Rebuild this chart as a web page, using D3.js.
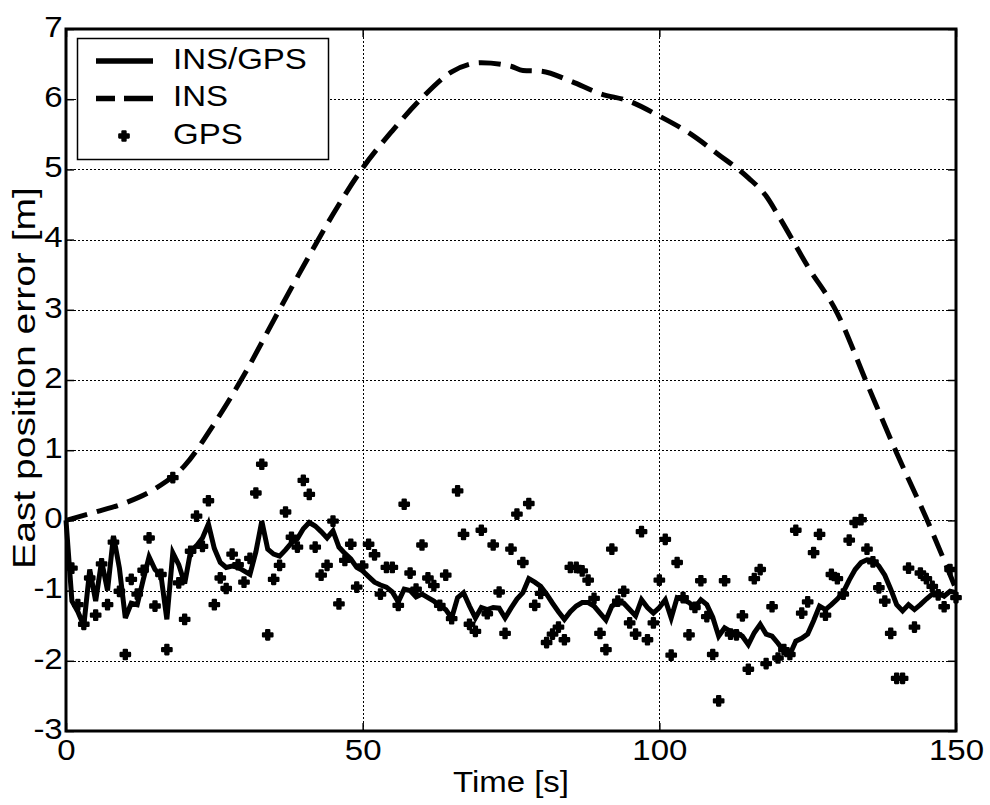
<!DOCTYPE html>
<html>
<head>
<meta charset="utf-8">
<script src="https://cdn.jsdelivr.net/npm/d3@7"></script>
<style>
body { margin: 0; background: #fff; }
svg text { font-family: "Liberation Sans", Arial, Helvetica, sans-serif; fill: #000; }
</style>
</head>
<body>
<svg id="chart" width="990" height="805"></svg>
<script>
"use strict";

// axis ticks
var xTicks = [0, 50, 100, 150];
var yTicks = [-3, -2, -1, 0, 1, 2, 3, 4, 5, 6, 7];
var seriesNames = ["INS/GPS", "INS", "GPS"];

// INS only (dashed)
var insTime = [0, 5, 10, 15, 20, 25, 30, 35, 40, 45, 50, 55, 60, 65, 70, 75, 77, 80, 85, 90,
	95, 100, 105, 110, 115, 118, 120, 125, 130, 135, 140, 145, 150];
var insErr = [0, 0.12, 0.25, 0.45, 0.78, 1.38, 2.07, 2.85, 3.62, 4.36, 5.02, 5.55, 6.02, 6.39, 6.52, 6.47, 6.41, 6.40, 6.26, 6.08,
	5.97, 5.76, 5.52, 5.21, 4.88, 4.62, 4.35, 3.62, 2.95, 1.95, 0.96, 0.03, -0.98];

// INS/GPS (solid), one sample per second
var fusedTime = [0, 1, 2, 3, 4, 5, 6, 7, 8, 9, 10, 11, 12, 13, 14, 15, 16, 17, 18, 19, 20,
	21, 22, 23, 24, 25, 26, 27, 28, 29, 30, 31, 32, 33, 34, 35, 36, 37, 38, 39, 40,
	41, 42, 43, 44, 45, 46, 47, 48, 49, 50, 51, 52, 53, 54, 55, 56, 57, 58, 59, 60,
	61, 62, 63, 64, 65, 66, 67, 68, 69, 70, 71, 72, 73, 74, 75, 76, 77, 78, 79, 80,
	81, 82, 83, 84, 85, 86, 87, 88, 89, 90, 91, 92, 93, 94, 95, 96, 97, 98, 99, 100,
	101, 102, 103, 104, 105, 106, 107, 108, 109, 110, 111, 112, 113, 114, 115, 116, 117, 118, 119, 120,
	121, 122, 123, 124, 125, 126, 127, 128, 129, 130, 131, 132, 133, 134, 135, 136, 137, 138, 139, 140,
	141, 142, 143, 144, 145, 146, 147, 148, 149, 150];
var fusedErr = [0, -1.15, -1.30, -1.50, -0.70, -1.15, -0.58, -1.00, -0.22, -0.68, -1.39,
	-1.18, -1.20, -0.85, -0.52, -0.70, -0.78, -1.41, -0.46, -0.63, -0.90,
	-0.44, -0.36, -0.25, -0.05, -0.40, -0.60, -0.67, -0.65, -0.67, -0.72,
	-0.77, -0.45, -0.01, -0.41, -0.48, -0.51, -0.42, -0.32, -0.26, -0.12,
	-0.03, -0.08, -0.16, -0.25, -0.15, -0.38, -0.47, -0.55, -0.67, -0.72,
	-0.80, -0.88, -0.92, -0.95, -1.02, -1.16, -0.98, -1.00, -1.09, -1.05,
	-1.10, -1.15, -1.22, -1.27, -1.39, -1.10, -1.03, -1.22, -1.39, -1.24,
	-1.27, -1.24, -1.25, -1.39, -1.25, -1.12, -1.03, -0.83, -0.88, -0.94,
	-1.05, -1.18, -1.30, -1.41, -1.30, -1.22, -1.17, -1.17, -1.22, -1.32,
	-1.42, -1.22, -1.17, -1.18, -1.27, -1.36, -1.13, -1.24, -1.32, -1.24,
	-1.13, -1.39, -1.10, -1.13, -1.17, -1.24, -1.13, -1.20, -1.38, -1.65,
	-1.53, -1.58, -1.60, -1.65, -1.77, -1.60, -1.48, -1.62, -1.65, -1.75,
	-1.86, -1.91, -1.72, -1.68, -1.62, -1.43, -1.22, -1.27, -1.20, -1.12,
	-1.02, -0.85, -0.70, -0.60, -0.56, -0.57, -0.65, -0.78, -0.98, -1.20,
	-1.29, -1.20, -1.27, -1.20, -1.12, -1.05, -1.03, -1.08, -1.01, -1.03];

// GPS fixes (markers)
var gpsTime = [1, 2, 3, 4, 5, 6, 7, 8, 9, 10, 11, 12, 13, 14, 15, 16, 17, 18, 19, 20,
	21, 22, 23, 24, 25, 26, 27, 28, 29, 30, 31, 32, 33, 34, 35, 36, 37, 38, 39, 40,
	41, 42, 43, 44, 45, 46, 47, 48, 49, 50, 51, 52, 53, 54, 55, 56, 57, 58, 59, 60,
	61, 62, 63, 64, 65, 66, 67, 68, 69, 70, 71, 72, 73, 74, 75, 76, 77, 78, 79, 80,
	81, 82, 83, 84, 85, 86, 87, 88, 89, 90, 91, 92, 93, 94, 95, 96, 97, 98, 99, 100,
	101, 102, 103, 104, 105, 106, 107, 108, 109, 110, 111, 112, 113, 114, 115, 116, 117, 118, 119, 120,
	121, 122, 123, 124, 125, 126, 127, 128, 129, 130, 131, 132, 133, 134, 135, 136, 137, 138, 139, 140,
	141, 142, 143, 144, 145, 146, 147, 148, 149, 150];
var gpsErr = [-0.68, -1.20, -1.48, -0.82, -1.35, -0.62, -1.20, -0.31, -1.01, -1.91,
	-0.84, -1.05, -0.71, -0.25, -1.22, -0.77, -1.84, 0.61, -0.89, -1.41,
	-0.44, 0.06, -0.37, 0.28, -1.20, -0.82, -0.97, -0.48, -0.63, -0.88,
	-0.54, 0.39, 0.80, -1.63, -0.84, -0.64, 0.12, -0.24, -0.38, 0.57,
	0.37, -0.38, -0.78, -0.64, -0.01, -1.19, -0.57, -0.34, -0.95, -0.65,
	-0.34, -0.49, -1.05, -0.67, -0.67, -1.21, 0.23, -0.75, -0.98, -0.35,
	-0.82, -0.93, -1.21, -0.78, -1.40, 0.42, -0.20, -1.48, -1.58, -0.14,
	-1.33, -0.35, -1.02, -1.61, -0.41, 0.09, -0.60, 0.24, -1.21, -1.04,
	-1.74, -1.62, -1.52, -1.70, -0.67, -0.67, -0.72, -0.85, -1.11, -1.61,
	-1.84, -0.41, -1.15, -1.01, -1.46, -1.62, -0.16, -1.70, -1.46, -0.85,
	-0.27, -1.92, -0.60, -1.10, -1.63, -1.24, -0.86, -1.37, -1.91, -2.57,
	-0.86, -1.62, -1.63, -1.36, -2.12, -0.83, -0.70, -2.04, -1.23, -1.96,
	-1.84, -1.91, -0.14, -1.32, -1.16, -0.46, -0.20, -1.35, -0.77, -0.83,
	-1.05, -0.28, -0.03, 0.01, -0.41, -0.59, -0.96, -1.15, -1.61, -2.25,
	-2.25, -0.68, -1.52, -0.75, -0.83, -0.94, -1.06, -1.23, -0.70, -1.10];

var fontSize = 30;
var stretch = "scale(1.1,1)";   // the original render is a bit wider than tall
var dashIns = "22,10";

window.addEventListener('load', function () {

	var svg = d3.select("#chart");
	var left = 66, right = 956, top = 29, bottom = 731;

	var x = d3.scaleLinear().domain([0, 150]).range([left, right]);
	var y = d3.scaleLinear().domain([-3, 7]).range([bottom, top]);

	// grid (dotted, matlab style)
	var grid = svg.append("g")
		.attr("stroke", "#000")
		.attr("stroke-width", 1)
		.attr("stroke-dasharray", "2,2")
		.attr("shape-rendering", "crispEdges");
	grid.selectAll(".gx")
		.data(xTicks.filter(function (d) { return d > 0 && d < 150; }))
		.enter().append("line")
		.attr("x1", function (d) { return Math.round(x(d)) + 0.5; })
		.attr("x2", function (d) { return Math.round(x(d)) + 0.5; })
		.attr("y1", top).attr("y2", bottom);
	grid.selectAll(".gy")
		.data(yTicks.filter(function (d) { return d > -3 && d < 7; }))
		.enter().append("line")
		.attr("y1", function (d) { return Math.round(y(d)) + 0.5; })
		.attr("y2", function (d) { return Math.round(y(d)) + 0.5; })
		.attr("x1", left).attr("x2", right);

	var plot = svg.append("g");

	// INS
	var insLine = d3.line()
		.x(function (d, i) { return x(insTime[i]); })
		.y(function (d) { return y(d); })
		.curve(d3.curveMonotoneX);
	plot.append("path")
		.attr("d", insLine(insErr))
		.attr("fill", "none")
		.attr("stroke", "#000")
		.attr("stroke-width", 5)
		.attr("stroke-dasharray", dashIns);

	// INS/GPS
	var fusedLine = d3.line()
		.x(function (d, i) { return x(fusedTime[i]); })
		.y(function (d) { return y(d); });
	plot.append("path")
		.attr("d", fusedLine(fusedErr))
		.attr("fill", "none")
		.attr("stroke", "#000")
		.attr("stroke-width", 5)
		.attr("stroke-linejoin", "miter");

	// GPS
	var cross = d3.symbol().type(d3.symbolCross).size(50);
	plot.selectAll(".gps")
		.data(gpsErr)
		.enter().append("path")
		.attr("class", "gps")
		.attr("d", cross)
		.attr("transform", function (d, i) { return "translate(" + x(gpsTime[i]) + "," + y(d) + ")"; })
		.attr("fill", "#000")
		.attr("stroke", "#000")
		.attr("stroke-width", 2.2)
		.attr("stroke-linejoin", "round");

	// axes, ticks pointing in like matlab
	function styleAxis(g) {
		g.select(".domain").remove();
		g.selectAll(".tick line").attr("stroke", "#000").attr("stroke-width", 1.5);
		g.selectAll(".tick text")
			.attr("font-size", fontSize + "px")
			.attr("font-family", null)
			.attr("transform", stretch);
	}
	var plain = function (d) { return String(d); };   // hyphen minus like the original
	svg.append("g")
		.attr("transform", "translate(0," + bottom + ")")
		.call(d3.axisBottom(x).tickValues(xTicks).tickSize(-8).tickPadding(8).tickFormat(plain))
		.call(styleAxis);
	svg.append("g")
		.attr("transform", "translate(" + left + ",0)")
		.call(d3.axisLeft(y).tickValues(yTicks).tickSize(-8).tickPadding(3).tickFormat(plain))
		.call(styleAxis)
		.selectAll(".tick text").attr("dy", "0.24em");
	svg.append("g")
		.attr("transform", "translate(0," + top + ")")
		.call(d3.axisTop(x).tickValues(xTicks).tickSize(-8).tickFormat(""))
		.call(styleAxis);
	svg.append("g")
		.attr("transform", "translate(" + right + ",0)")
		.call(d3.axisRight(y).tickValues(yTicks).tickSize(-8).tickFormat(""))
		.call(styleAxis);

	svg.append("rect")
		.attr("x", left).attr("y", top)
		.attr("width", right - left).attr("height", bottom - top)
		.attr("fill", "none")
		.attr("stroke", "#000")
		.attr("stroke-width", 3);

	// axis labels
	svg.append("g")
		.attr("transform", "translate(" + (left + right) / 2 + ",792) " + stretch)
		.append("text")
		.attr("text-anchor", "middle")
		.attr("font-size", fontSize + "px")
		.text("Time [s]");
	svg.append("g")
		.attr("transform", "translate(35,378) rotate(-90) scale(1.22,1)")
		.append("text")
		.attr("text-anchor", "middle")
		.attr("font-size", "32px")
		.text("East position error [m]");

	// legend
	var legend = svg.append("g");
	legend.append("rect")
		.attr("x", 77.5).attr("y", 38.5)
		.attr("width", 251).attr("height", 121)
		.attr("fill", "#fff")
		.attr("stroke", "#000")
		.attr("stroke-width", 1.5);

	var rows = legend.selectAll(".row")
		.data(seriesNames)
		.enter().append("g")
		.attr("class", "row")
		.attr("transform", function (d, i) { return "translate(0," + (61 + i * 37.5) + ")"; });

	rows.filter(function (d, i) { return i < 2; })
		.append("line")
		.attr("x1", 96).attr("x2", 153)
		.attr("stroke", "#000")
		.attr("stroke-width", 5.5)
		.attr("stroke-dasharray", function (d, i) { return i === 1 ? "19,9,29" : null; });
	rows.filter(function (d, i) { return i === 2; })
		.append("path")
		.attr("d", cross)
		.attr("transform", "translate(124,0)")
		.attr("fill", "#000")
		.attr("stroke", "#000")
		.attr("stroke-width", 2.2)
		.attr("stroke-linejoin", "round");

	rows.append("g")
		.attr("transform", "translate(173,7.5) " + stretch)
		.append("text")
		.attr("font-size", fontSize + "px")
		.text(function (d) { return d; });
});
</script>
</body>
</html>
